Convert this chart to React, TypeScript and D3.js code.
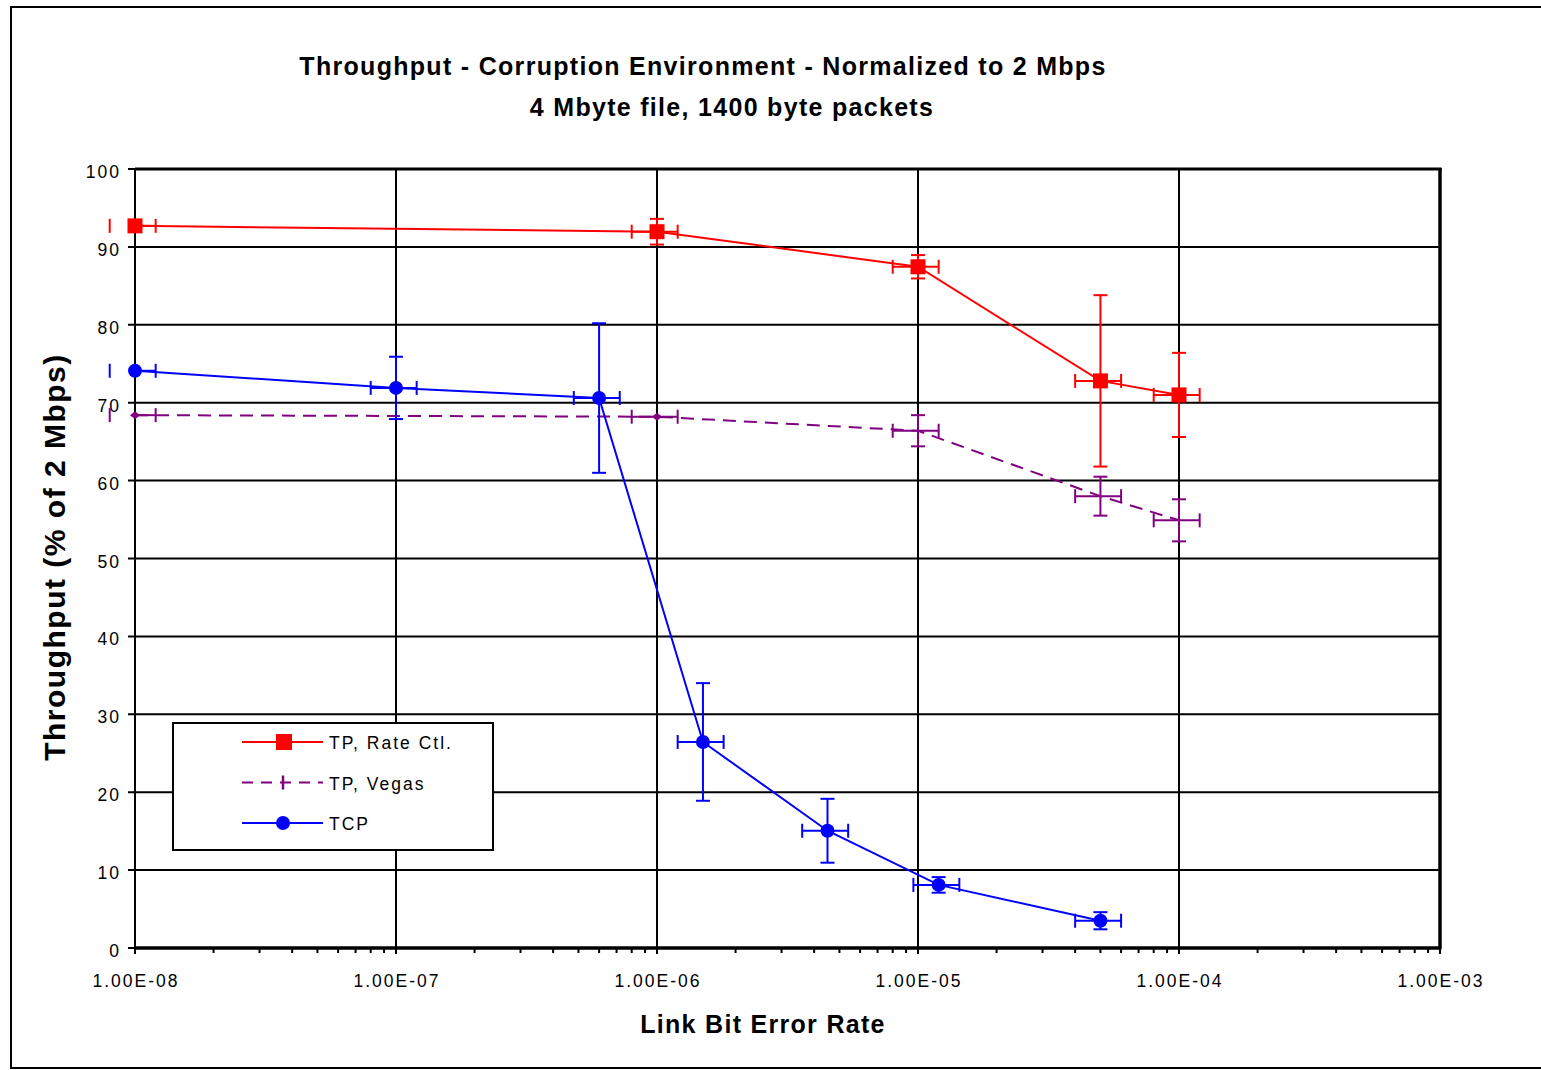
import React from 'react';
import * as d3 from 'd3';

// link bit error rate decades and their labels
const berTicks = [1e-8, 1e-7, 1e-6, 1e-5, 1e-4, 1e-3];
const berLabels = ['1.00E-08', '1.00E-07', '1.00E-06', '1.00E-05', '1.00E-04', '1.00E-03'];
const pctTicks = [0, 10, 20, 30, 40, 50, 60, 70, 80, 90, 100];

// TP, Rate Ctl.
const rateX = [1e-8, 1e-6, 1e-5, 5e-5, 1e-4];
const rateY = [92.7, 91.95, 87.45, 72.8, 71.0];
const rateYErr = [0, 1.65, 1.5, 11, 5.4];

// TP, Vegas
const vegasX = [1e-8, 1e-6, 1e-5, 5e-5, 1e-4];
const vegasY = [68.4, 68.2, 66.4, 58.0, 54.9];
const vegasYErr = [0, 0, 2, 2.5, 2.7];

// TCP
const tcpX = [1e-8, 1e-7, 6e-7, 1.5e-6, 4.5e-6, 1.2e-5, 5e-5];
const tcpY = [74.1, 71.9, 70.6, 26.45, 15.05, 8.1, 3.5];
const tcpYErr = [0, 4, 9.6, 7.55, 4.1, 1.0, 1.1];

// horizontal error is +/- 20% of the error rate
const xErrFrac = 0.2;

const W = 1541;
const H = 1070;
const left = 135, right = 1440, top = 169, bottom = 948;
const font = '"Liberation Sans", Arial, sans-serif';

const x = d3.scaleLog().domain([1e-8, 1e-3]).range([left, right]);
const y = d3.scaleLinear().domain([0, 100]).range([bottom, top]);

type Pt = { x: number; y: number; ye: number };
const zip = (xs: number[], ys: number[], es: number[]): Pt[] =>
  xs.map((v, i) => ({ x: v, y: ys[i], ye: es[i] }));

const rate = zip(rateX, rateY, rateYErr);
const vegas = zip(vegasX, vegasY, vegasYErr);
const tcp = zip(tcpX, tcpY, tcpYErr);

const line = d3.line<Pt>().x(d => x(d.x)).y(d => y(d.y));

const ErrorBars = ({ data, color }: { data: Pt[]; color: string }) => {
  const cap = 7;
  return (
    <g stroke={color} strokeWidth={2} fill="none">
      {data.map((d, i) => {
        const cx = x(d.x), cy = y(d.y);
        const x0 = x(d.x * (1 - xErrFrac)), x1 = x(d.x * (1 + xErrFrac));
        return (
          <g key={i}>
            <line x1={Math.max(x0, left)} x2={x1} y1={cy} y2={cy} />
            <line x1={x0} x2={x0} y1={cy - cap} y2={cy + cap} />
            <line x1={x1} x2={x1} y1={cy - cap} y2={cy + cap} />
            {d.ye > 0 && (
              <>
                <line x1={cx} x2={cx} y1={y(d.y + d.ye)} y2={y(d.y - d.ye)} />
                <line x1={cx - cap} x2={cx + cap} y1={y(d.y + d.ye)} y2={y(d.y + d.ye)} />
                <line x1={cx - cap} x2={cx + cap} y1={y(d.y - d.ye)} y2={y(d.y - d.ye)} />
              </>
            )}
          </g>
        );
      })}
    </g>
  );
};

const minorTicks: number[] = [];
berTicks.slice(0, -1).forEach(t => {
  for (let k = 2; k <= 9; k++) minorTicks.push(t * k);
});

const diamond = (cx: number, cy: number) =>
  `M${cx - 5},${cy} L${cx},${cy - 4} L${cx + 5},${cy} L${cx},${cy + 4} Z`;

export default function App() {
  const legend = [
    { label: 'TP, Rate Ctl.', color: '#ff0000', dash: undefined, marker: 'square' },
    { label: 'TP, Vegas', color: '#800080', dash: '11 8', marker: 'bar' },
    { label: 'TCP', color: '#0000ff', dash: undefined, marker: 'circle' },
  ];
  const tickText = { fontFamily: font, fontSize: 17.5, letterSpacing: 2, fill: '#000' };

  return (
    <svg width={W} height={H} style={{ position: 'absolute', left: 0, top: 0, background: '#fff' }}>
      <rect x={0} y={0} width={W} height={H} fill="#fff" />
      <rect x={11} y={7} width={W + 20} height={1061} fill="none" stroke="#000" strokeWidth={2} />

      <text x={703} y={75} textAnchor="middle" fontFamily={font} fontSize={25} fontWeight="bold" letterSpacing={1.3}>
        Throughput - Corruption Environment - Normalized to 2 Mbps
      </text>
      <text x={732} y={116} textAnchor="middle" fontFamily={font} fontSize={25} fontWeight="bold" letterSpacing={1.3}>
        4 Mbyte file, 1400 byte packets
      </text>

      {/* grid */}
      <g stroke="#000" strokeWidth={2}>
        {pctTicks.map(t => (
          <line key={'h' + t} x1={left - 7} x2={right} y1={y(t)} y2={y(t)} />
        ))}
        {berTicks.map(t => (
          <line key={'v' + t} x1={x(t)} x2={x(t)} y1={top} y2={bottom + 6} />
        ))}
        {minorTicks.map(t => (
          <line key={'m' + t} x1={x(t)} x2={x(t)} y1={bottom} y2={bottom + 5} />
        ))}
      </g>
      <line x1={left} x2={right + 1.5} y1={top} y2={top} stroke="#000" strokeWidth={3} />
      <line x1={left} x2={right + 1.5} y1={bottom} y2={bottom} stroke="#000" strokeWidth={3.5} />
      <line x1={right} x2={right} y1={top - 1} y2={bottom} stroke="#000" strokeWidth={3.5} />

      {pctTicks.map(t => (
        <text key={'yl' + t} x={121} y={y(t) + 9} textAnchor="end" {...tickText}>
          {t}
        </text>
      ))}
      {berTicks.map((t, i) => (
        <text key={'xl' + t} x={x(t) + 1} y={987} textAnchor="middle" {...tickText}>
          {berLabels[i]}
        </text>
      ))}

      <text x={763} y={1033} textAnchor="middle" fontFamily={font} fontSize={25} fontWeight="bold" letterSpacing={1.3}>
        Link Bit Error Rate
      </text>
      <text
        transform="translate(65,557) rotate(-90)"
        textAnchor="middle"
        fontFamily={font}
        fontSize={30}
        fontWeight="bold"
        letterSpacing={1.5}
      >
        Throughput (% of 2 Mbps)
      </text>

      {/* Vegas */}
      <ErrorBars data={vegas} color="#800080" />
      <path d={line(vegas) || ''} fill="none" stroke="#800080" strokeWidth={2} strokeDasharray="13 8" />
      {vegas.filter(d => d.ye === 0).map((d, i) => (
        <path key={i} d={diamond(x(d.x), y(d.y))} fill="#800080" />
      ))}

      {/* TCP */}
      <ErrorBars data={tcp} color="#0000ff" />
      <path d={line(tcp) || ''} fill="none" stroke="#0000ff" strokeWidth={2} />
      {tcp.map((d, i) => (
        <circle key={i} cx={x(d.x)} cy={y(d.y)} r={7} fill="#0000ff" />
      ))}

      {/* Rate Ctl */}
      <ErrorBars data={rate} color="#ff0000" />
      <path d={line(rate) || ''} fill="none" stroke="#ff0000" strokeWidth={2} />
      {rate.map((d, i) => (
        <rect key={i} x={x(d.x) - 7.5} y={y(d.y) - 7.5} width={15} height={15} fill="#ff0000" />
      ))}

      {/* legend */}
      <rect x={173} y={723} width={320} height={127} fill="#fff" stroke="#000" strokeWidth={2} />
      {legend.map((e, i) => {
        const ly = 742 + i * 40.5;
        return (
          <g key={e.label}>
            <line x1={242} x2={323} y1={ly} y2={ly} stroke={e.color} strokeWidth={2} strokeDasharray={e.dash} />
            {e.marker === 'square' && <rect x={276} y={ly - 8} width={16} height={16} fill={e.color} />}
            {e.marker === 'circle' && <circle cx={283} cy={ly} r={7} fill={e.color} />}
            {e.marker === 'bar' && <line x1={283} x2={283} y1={ly - 7} y2={ly + 7} stroke={e.color} strokeWidth={2.5} />}
            <text x={329} y={ly + 7} fontFamily={font} fontSize={17.5} letterSpacing={2} fill="#000">
              {e.label}
            </text>
          </g>
        );
      })}
    </svg>
  );
}
